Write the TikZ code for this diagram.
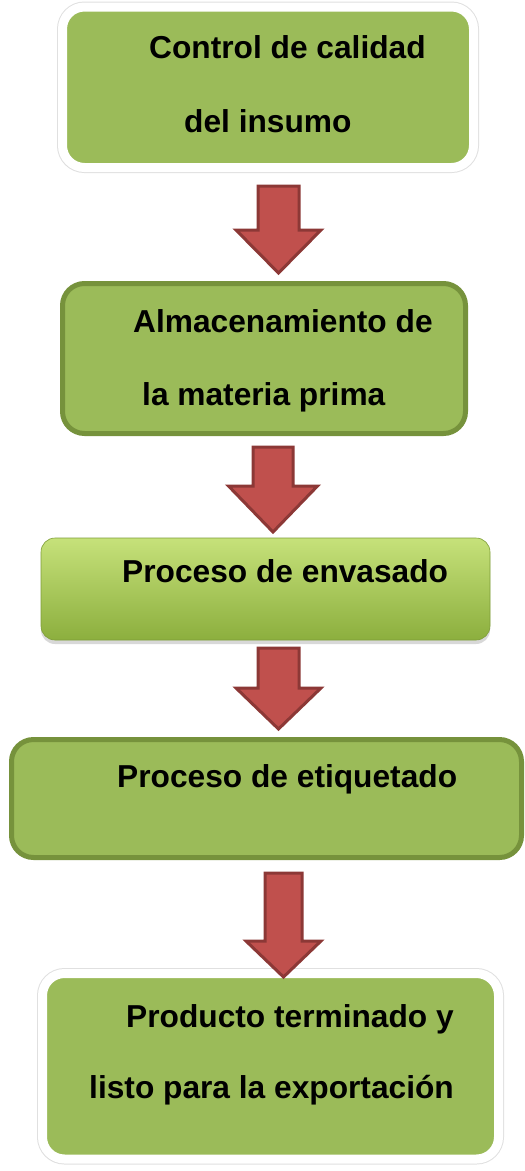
\documentclass[tikz,border=0pt]{standalone}
\usepackage{fontspec}
\setmainfont{Liberation Sans}
\usetikzlibrary{shadows}
\definecolor{boxgreen}{HTML}{9BBB59}
\definecolor{boxedge}{HTML}{76923C}
\definecolor{arrowfill}{HTML}{C0504D}
\definecolor{arrowedge}{HTML}{8C3836}
\definecolor{gradtop}{HTML}{C6E17A}
\definecolor{gradbot}{HTML}{8CAF3E}
\tikzset{
  base box/.style={rectangle, rounded corners=22pt, inner sep=0pt, fill=boxgreen},
  white box/.style={base box, draw=white, line width=9pt,
    preaction={draw=black!12, line width=11pt},
    drop shadow={shadow xshift=-3pt, shadow yshift=-4pt, fill=black!16}},
  edge box/.style={base box, draw=boxedge, line width=5pt},
  shade box/.style={rectangle, rounded corners=14pt, inner sep=0pt,
    top color=gradtop, bottom color=gradbot, draw=gradbot!90!black, line width=0.6pt,
    drop shadow={shadow xshift=0pt, shadow yshift=-4pt, fill=black!30}},
  label text/.style={anchor=base west, inner sep=0pt,
    font=\fontsize{31.7}{38}\selectfont\bfseries},
  flow arrow/.style={fill=arrowfill, draw=arrowedge, line width=3pt, line join=miter}
}
% #1 top-centre coordinate, #2 shaft half width, #3 head half width, #4 shaft length, #5 head length
\newcommand{\flowarrow}[5]{%
  \draw[flow arrow] (#1) ++(-#2,0) -- ++(0,#4) -- ++(#2-#3,0) -- ++(#3,#5)
    -- ++(#3,-#5) -- ++(#2-#3,0) -- ++(0,-#4) -- cycle;}
\begin{document}
\begin{tikzpicture}[x=1pt,y=-1pt]
\useasboundingbox (0,0) rectangle (525,1171);

% boxes
\node[white box, minimum width=411pt, minimum height=160.5pt] (b1) at (268,87.25) {};
\node[edge box, minimum width=403pt, minimum height=150pt] (b2) at (264,358.5) {};
\node[shade box, minimum width=449pt, minimum height=102pt] (b3) at (265.5,589) {};
\node[edge box, minimum width=510pt, minimum height=118pt] (b4) at (266.5,798.5) {};
\node[white box, minimum width=456pt, minimum height=185.5pt] (b5) at (270.5,1066.25) {};

% texts
\node[label text] (t1a) at (149,58) {Control de calidad};
\node[label text] (t1b) at (184,132) {del insumo};
\node[label text] (t2a) at (133,332) {Almacenamiento de};
\node[label text] (t2b) at (142,405) {la materia prima};
\node[label text] (t3) at (122,582) {Proceso de envasado};
\node[label text] (t4) at (117,787) {Proceso de etiquetado};
\node[label text] (t5a) at (126,1027) {Producto terminado y};
\node[label text] (t5b) at (89,1098) {listo para la exportación};

% arrows between boxes
\coordinate (a1) at (278.5,186);
\coordinate (a2) at (273,447);
\coordinate (a3) at (278.5,648);
\coordinate (a4) at (283.5,873);
\flowarrow{a1}{20.5}{42.5}{44}{43}
\flowarrow{a2}{20}{44.5}{39}{46}
\flowarrow{a3}{20.5}{42.5}{40}{41}
\flowarrow{a4}{18.5}{37.5}{68}{36}
\end{tikzpicture}
\end{document}
